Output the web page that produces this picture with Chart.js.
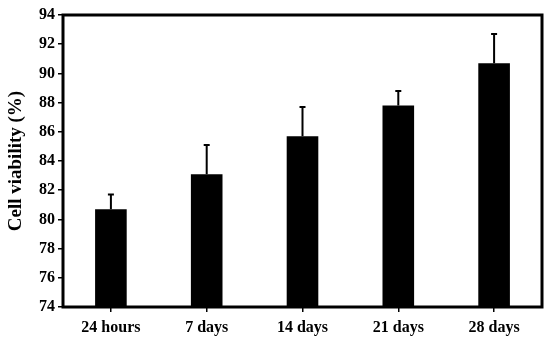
<!DOCTYPE html>
<html>
<head>
<meta charset="utf-8">
<script src="https://cdn.jsdelivr.net/npm/chart.js@4"></script>
<style>
  html, body { margin: 0; padding: 0; background: #fff; }
  #wrap { width: 550px; height: 340px; }
</style>
</head>
<body>
<div id="wrap"><canvas id="chart"></canvas></div>
<script>
const labels = ['24 hours', '7 days', '14 days', '21 days', '28 days'];
const viability = [80.7, 83.1, 85.7, 87.8, 90.7];
const errors = [1.0, 2.0, 2.0, 1.0, 2.0];
const yTicks = [74, 76, 78, 80, 82, 84, 86, 88, 90, 92, 94];

const font = { family: '"Liberation Serif", "Times New Roman", serif', weight: 'bold', size: 16 };

// error bars (upper half only) + box frame
const errorBars = {
  id: 'errorBars',
  afterDatasetsDraw(chart) {
    const { ctx, scales: { x, y } } = chart;
    ctx.save();
    ctx.strokeStyle = '#000';
    ctx.lineWidth = 2;
    viability.forEach((v, i) => {
      const px = x.getPixelForValue(i);
      const top = y.getPixelForValue(v + errors[i]);
      const base = y.getPixelForValue(v);
      ctx.beginPath();
      ctx.moveTo(px, base);
      ctx.lineTo(px, top);
      ctx.moveTo(px - 3, top);
      ctx.lineTo(px + 3, top);
      ctx.stroke();
    });
    const a = chart.chartArea;
    ctx.lineWidth = 3;
    ctx.strokeRect(a.left, a.top, a.right - a.left, a.bottom - a.top);
    ctx.restore();
  }
};

new Chart(document.getElementById('chart'), {
  type: 'bar',
  data: {
    labels,
    datasets: [{
      data: viability,
      backgroundColor: '#000',
      barPercentage: 0.33,
      categoryPercentage: 1.0
    }]
  },
  options: {
    responsive: true,
    maintainAspectRatio: false,
    animation: false,
    layout: { padding: { top: 15, right: 8, left: 5, bottom: 0 } },
    plugins: { legend: { display: false }, tooltip: { enabled: false } },
    scales: {
      x: {
        grid: { offset: false, drawOnChartArea: false, drawTicks: true, tickLength: 5, color: '#000', lineWidth: 1.5 },
        border: { display: false },
        ticks: { color: '#000', font, padding: 6 },
        afterFit(s) { s.height = 33; }
      },
      y: {
        min: 74, max: 94,
        afterBuildTicks(s) { s.ticks = yTicks.map(v => ({ value: v })); },
        grid: { drawOnChartArea: false, drawTicks: true, tickLength: 5, color: '#000', lineWidth: 1.5 },
        border: { display: false },
        ticks: { color: '#000', font, padding: 3 },
        title: { display: true, text: 'Cell viability (%)', color: '#000', font: { ...font, size: 19 }, padding: { top: 0, bottom: 4 } },
        afterFit(s) { s.width = 58; }
      }
    }
  },
  plugins: [errorBars]
});
</script>
</body>
</html>
